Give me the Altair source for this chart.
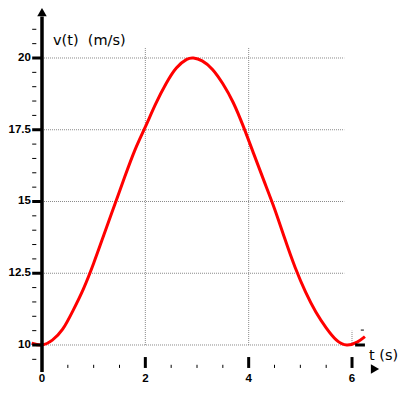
import altair as alt
import pandas as pd

# curve
t_vals = [-0.2, 0.0, 0.2, 0.4, 0.6, 0.8, 1.0, 1.2, 1.4, 1.6, 1.8, 2.0, 2.2, 2.4, 2.6, 2.8,
          2.93, 3.1, 3.3, 3.5, 3.7, 3.9, 4.1, 4.3, 4.5, 4.7, 4.9, 5.1, 5.3, 5.5, 5.7,
          5.9, 6.1, 6.25]
v_vals = [10.06, 10.0, 10.17, 10.55, 11.2, 11.95, 12.85, 13.85, 14.85, 15.85, 16.8, 17.6,
          18.4, 19.1, 19.65, 19.95, 20.0, 19.9, 19.6, 19.1, 18.45, 17.6, 16.65, 15.7, 14.75,
          13.7, 12.7, 11.85, 11.15, 10.6, 10.17, 10.0, 10.1, 10.29]

y_major = [10, 12.5, 15, 17.5, 20]
y_labels = ["10", "12.5", "15", "17.5", "20"]
y_minor = [9.5, 10.5, 11, 11.5, 12, 13, 13.5, 14, 14.5, 15.5, 16, 16.5, 17, 18,
           18.5, 19, 19.5, 20.5, 21]
x_major = [2, 4, 6]
x_labels_at = [0, 2, 4, 6]
x_labels = ["0", "2", "4", "6"]
x_minor = [0.5, 1, 1.5, 2.5, 3, 3.5, 4.5, 5, 5.5]
x_grid = [2, 4]

X = alt.Scale(domain=[-0.658, 6.890], nice=False, zero=False)
Y = alt.Scale(domain=[8.606, 21.742], nice=False, zero=False)


def rules(df, width, color="black", dash=None):
    kw = dict(strokeWidth=width, color=color)
    if dash:
        kw["strokeDash"] = dash
    return alt.Chart(df).mark_rule(**kw).encode(
        x=alt.X("x0:Q", scale=X, axis=None),
        x2="x1:Q",
        y=alt.Y("y0:Q", scale=Y, axis=None),
        y2="y1:Q",
    )


grid_h = pd.DataFrame({"x0": [0.0] * len(y_major), "x1": [5.85] * len(y_major),
                       "y0": y_major, "y1": y_major})
grid_v = pd.DataFrame({"x0": x_grid + [6], "x1": x_grid + [6],
                       "y0": [10, 10, 10], "y1": [20.38, 20.38, 10.5]})
yaxis = pd.DataFrame({"x0": [0], "x1": [0], "y0": [9.06], "y1": [21.45]})
ymaj = pd.DataFrame({"x0": [-0.19] * 5, "x1": [0] * 5, "y0": y_major, "y1": y_major})
ymin = pd.DataFrame({"x0": [-0.19] * len(y_minor), "x1": [-0.11] * len(y_minor),
                     "y0": y_minor, "y1": y_minor})
xmaj = pd.DataFrame({"x0": x_major, "x1": x_major, "y0": [9.58] * 3, "y1": [9.2] * 3})
xmin = pd.DataFrame({"x0": x_minor, "x1": x_minor, "y0": [9.31] * len(x_minor),
                     "y1": [9.2] * len(x_minor)})
extra_thick = pd.DataFrame({"x0": [6.06], "x1": [6.25], "y0": [10.0], "y1": [10.0]})
extra_thin = pd.DataFrame({"x0": [6.17], "x1": [6.23], "y0": [10.52], "y1": [10.52]})

curve = alt.Chart(pd.DataFrame({"t": t_vals, "v": v_vals})).mark_line(
    color="#ff0000", strokeWidth=3, interpolate="natural"
).encode(x=alt.X("t:Q", scale=X, axis=None), y=alt.Y("v:Q", scale=Y, axis=None))

arrows = alt.Chart(pd.DataFrame({"x": [0, 6.445], "y": [21.6, 9.164],
                                 "s": ["triangle-up", "triangle-right"]})).mark_point(
    filled=True, color="black", opacity=1, size=90
).encode(
    x=alt.X("x:Q", scale=X, axis=None), y=alt.Y("y:Q", scale=Y, axis=None),
    shape=alt.Shape("s:N", scale=alt.Scale(domain=["triangle-up", "triangle-right"],
                                           range=["triangle-up", "triangle-right"]),
                    legend=None),
)

ylab = alt.Chart(pd.DataFrame({"x": [-0.215] * 5, "y": y_major, "l": y_labels})).mark_text(
    align="right", baseline="middle", font="Liberation Sans", fontWeight="bold",
    fontSize=11.5, color="black"
).encode(x=alt.X("x:Q", scale=X, axis=None), y=alt.Y("y:Q", scale=Y, axis=None), text="l:N")

xlab = alt.Chart(pd.DataFrame({"x": x_labels_at, "y": [8.72] * 4, "l": x_labels})).mark_text(
    align="center", baseline="alphabetic", font="Liberation Sans", fontWeight="bold",
    fontSize=11.5, color="black"
).encode(x=alt.X("x:Q", scale=X, axis=None), y=alt.Y("y:Q", scale=Y, axis=None), text="l:N")

titles = alt.Chart(pd.DataFrame({"x": [0.213, 6.329], "y": [20.59, 9.617],
                                 "l": ["v(t)\u00a0\u00a0(m/s)", "t (s)"]})).mark_text(
    align="left", baseline="middle", font="DejaVu Sans", fontSize=14.5, color="black"
).encode(x=alt.X("x:Q", scale=X, axis=None), y=alt.Y("y:Q", scale=Y, axis=None), text="l:N")

chart = alt.layer(
    rules(grid_h, 1, "#888888", [1, 1]),
    rules(grid_v, 1, "#888888", [1, 1]),
    curve,
    rules(yaxis, 3.5),
    rules(ymaj, 3),
    rules(ymin, 1),
    rules(xmaj, 3),
    rules(xmin, 1),
    rules(extra_thick, 3),
    rules(extra_thin, 1),
    arrows,
    ylab,
    xlab,
    titles,
).properties(
    width=390, height=377, padding=0,
    autosize=alt.AutoSizeParams(type="none"),
    background="white",
).configure_view(stroke=None)

chart.save("out.html", embed_options={"renderer": "svg", "actions": False})
